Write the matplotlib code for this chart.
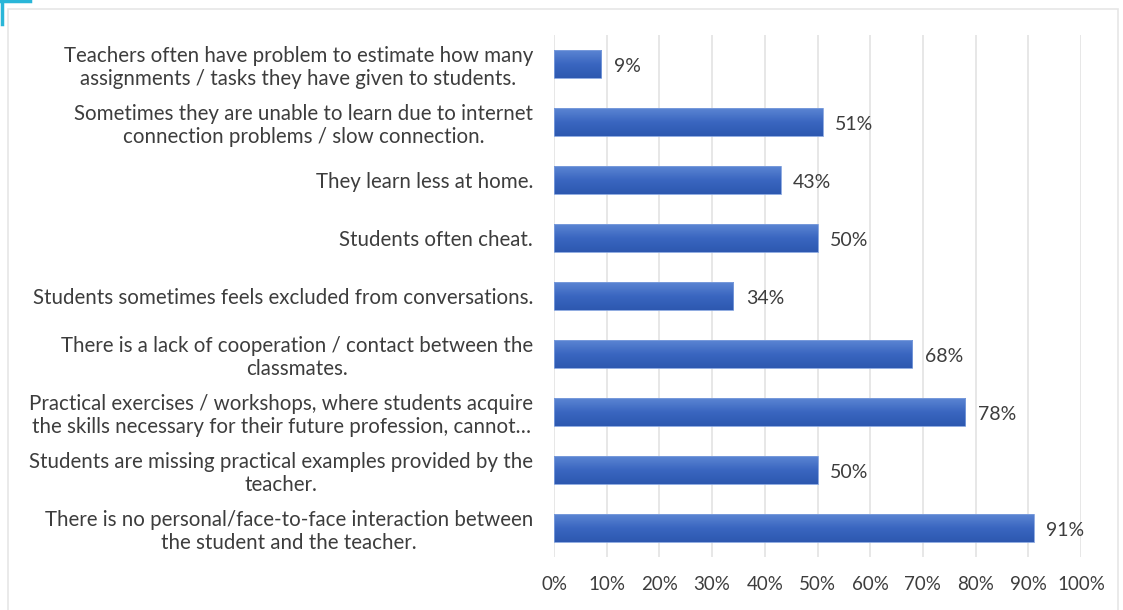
import numpy as np
import matplotlib.pyplot as plt
from matplotlib.patches import Rectangle
from matplotlib.lines import Line2D
from matplotlib.colors import LinearSegmentedColormap

labels = [
    "Teachers often have problem to estimate how many\nassignments / tasks they have given to students.",
    "Sometimes they are unable to learn due to internet\nconnection problems / slow connection.",
    "They learn less at home.",
    "Students often cheat.",
    "Students sometimes feels excluded from conversations.",
    "There is a lack of cooperation / contact between the\nclassmates.",
    "Practical exercises / workshops, where students acquire\nthe skills necessary for their future profession, cannot\u2026",
    "Students are missing practical examples provided by the\nteacher.",
    "There is no personal/face-to-face interaction between\nthe student and the teacher.",
]
values = [9, 51, 43, 50, 34, 68, 78, 50, 91]
ticks = [0, 10, 20, 30, 40, 50, 60, 70, 80, 90, 100]

plt.rcParams['font.family'] = ['Lato', 'DejaVu Sans']
text_col = '#3d3d3d'

fig = plt.figure(figsize=(11.23, 6.10), dpi=100)
ax = fig.add_axes([554 / 1123, 53 / 610, 527 / 1123, 522 / 610])

y = np.arange(len(values))
bars = ax.barh(y, values, height=0.48, color='none', edgecolor='#7d9edc',
               linewidth=0.6, zorder=3)

# soft top-to-bottom shading inside every bar
shade = LinearSegmentedColormap.from_list('shade', ['#5b85d3', '#3a66c0', '#2d58b0'])
grad = np.linspace(0, 1, 64).reshape(-1, 1)
for b in bars:
    x0, y0 = b.get_x(), b.get_y()
    w, h = b.get_width(), b.get_height()
    im = ax.imshow(grad, cmap=shade, aspect='auto', extent=(x0, x0 + w, y0 + h, y0),
                   origin='upper', zorder=2)
    im.set_clip_path(b)

for yi, v in zip(y, values):
    ax.text(v + 2.4, yi + 0.05, f"{v}%", va='center', ha='left', fontsize=14, color=text_col)

ax.set_xlim(0, 100)
ax.set_ylim(len(values) - 0.5, -0.5)
ax.set_xticks(ticks)
ax.set_xticklabels([f"{t}%" for t in ticks], fontsize=13.5, color=text_col)
ax.set_yticks(y)
ax.set_yticklabels(labels, fontsize=14.8, color=text_col)
for t in ax.get_yticklabels():
    t.set_multialignment('center')
ax.tick_params(axis='y', length=0, pad=15)
ax.tick_params(axis='x', length=0, pad=14)
ax.grid(axis='x', color='#e3e3e3', linewidth=1.2, zorder=0)
for s in ax.spines.values():
    s.set_visible(False)

# chart frame and corner accent
fig.patches.append(Rectangle((8 / 1123, -0.01), 1110 / 1123, 1 - 9 / 610 + 0.01,
                             transform=fig.transFigure, fill=False,
                             edgecolor='#e6e6e6', linewidth=1.2))
fig.lines.append(Line2D([1.5 / 1123, 1.5 / 1123], [1, 1 - 24 / 610],
                        transform=fig.transFigure, color='#29b6d8', linewidth=2.5))
fig.lines.append(Line2D([0, 30 / 1123], [1 - 1 / 610, 1 - 1 / 610],
                        transform=fig.transFigure, color='#29b6d8', linewidth=2.5))

fig.savefig('out.png', dpi=100)
